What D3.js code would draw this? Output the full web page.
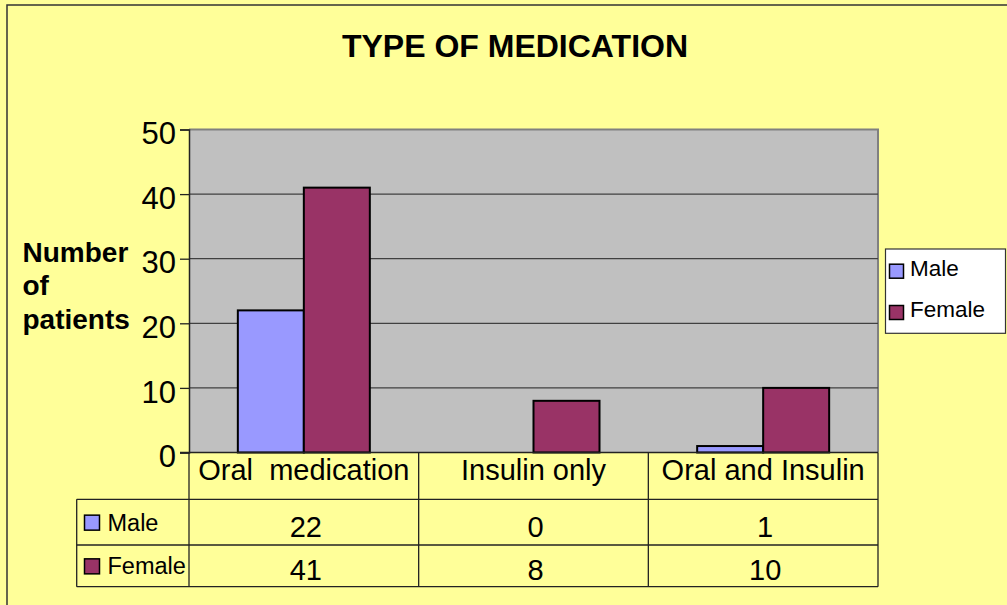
<!DOCTYPE html>
<html>
<head>
<meta charset="utf-8">
<script src="https://cdn.jsdelivr.net/npm/d3@7"></script>
<style>
  html, body { margin: 0; padding: 0; background: #FFFF99; }
  svg { display: block; }
  text { font-family: "Liberation Sans", Arial, sans-serif; }
</style>
</head>
<body>
<svg id="chart" width="1007" height="605"></svg>
<script>
const title = "TYPE OF MEDICATION";
const categories = ["Oral  medication", "Insulin only", "Oral and Insulin"];
const seriesNames = ["Male", "Female"];
const maleValues = [22, 0, 1];
const femaleValues = [41, 8, 10];
const yTicks = [0, 10, 20, 30, 40, 50];
const yTitleLines = ["Number", "of", "patients"];
const colors = { Male: "#9999FF", Female: "#993366" };

const seriesValues = { Male: maleValues, Female: femaleValues };

const svg = d3.select("#chart");
const W = 1007, H = 605;

svg.append("rect").attr("x", 0).attr("y", 0).attr("width", W).attr("height", H).attr("fill", "#FFFF99");
svg.append("rect").attr("x", 7).attr("y", 5).attr("width", W + 10).attr("height", H + 10)
  .attr("fill", "none").attr("stroke", "#333").attr("stroke-width", 1.5);

const plot = { left: 189, right: 878, top: 129.5, bottom: 452.5 };

const x = d3.scaleBand().domain(categories).range([plot.left, plot.right]).paddingInner(0).paddingOuter(0);
const xs = d3.scaleBand().domain(seriesNames).range([0, x.bandwidth()]).paddingInner(0).paddingOuter(0.74);
const y = d3.scaleLinear().domain([0, 50]).range([plot.bottom, plot.top]);

svg.append("rect").attr("x", plot.left).attr("y", plot.top)
  .attr("width", plot.right - plot.left).attr("height", plot.bottom - plot.top)
  .attr("fill", "#C0C0C0");
svg.append("path")
  .attr("d", `M${plot.left},${plot.top}H${plot.right}V${plot.bottom}`)
  .attr("fill", "none").attr("stroke", "#808080").attr("stroke-width", 2);

svg.append("g").selectAll("line").data(yTicks.filter(d => d > 0 && d < 50)).join("line")
  .attr("x1", plot.left).attr("x2", plot.right)
  .attr("y1", d => y(d)).attr("y2", d => y(d))
  .attr("stroke", "#404040").attr("stroke-width", 1.3);

const yAxis = d3.axisLeft(y).tickValues(yTicks).tickSize(9).tickPadding(6);
const gy = svg.append("g").attr("transform", `translate(${plot.left},0)`).call(yAxis);
gy.select(".domain").attr("stroke", "#222").attr("stroke-width", 1.5);
gy.selectAll(".tick line").attr("stroke", "#222").attr("stroke-width", 1.3);
gy.selectAll(".tick text").attr("font-size", 31).attr("fill", "#000").attr("dy", "0.46em").attr("x", -13);

const g = svg.append("g");
seriesNames.forEach(s => {
  g.selectAll(null).data(categories.map((c, i) => ({ c, v: seriesValues[s][i] })).filter(d => d.v > 0)).join("rect")
    .attr("x", d => x(d.c) + xs(s))
    .attr("y", d => y(d.v))
    .attr("width", xs.bandwidth())
    .attr("height", d => y(0) - y(d.v))
    .attr("fill", colors[s]).attr("stroke", "#000").attr("stroke-width", 2);
});

svg.append("line").attr("x1", plot.left - 9).attr("x2", plot.right)
  .attr("y1", y(0)).attr("y2", y(0)).attr("stroke", "#222").attr("stroke-width", 1.5);

const rowTops = [y(0), 499.3, 545, 586.7];
const tableLeft = 76.7;
const tg = svg.append("g").attr("stroke", "#222").attr("stroke-width", 1.3);
const colEdges = [plot.left, ...categories.map(c => x(c) + x.bandwidth())];
tg.selectAll(".vcol").data(colEdges).join("line")
  .attr("x1", d => d).attr("x2", d => d)
  .attr("y1", rowTops[0]).attr("y2", rowTops[3]);
tg.append("line").attr("x1", tableLeft).attr("x2", tableLeft).attr("y1", rowTops[1]).attr("y2", rowTops[3]);
tg.selectAll(".hrow").data([rowTops[1], rowTops[2], rowTops[3]]).join("line")
  .attr("x1", tableLeft).attr("x2", plot.right)
  .attr("y1", d => d).attr("y2", d => d);

svg.append("g").selectAll("text").data(categories).join("text")
  .attr("x", d => x(d) + x.bandwidth() / 2)
  .attr("y", 480)
  .attr("text-anchor", "middle")
  .attr("font-size", 29)
  .style("white-space", "pre")
  .attr("xml:space", "preserve")
  .text(d => d);

seriesNames.forEach((s, si) => {
  const base = si === 0 ? 536.5 : 580;
  svg.append("g").selectAll("text").data(categories.map((c, i) => ({ c, v: seriesValues[s][i] }))).join("text")
    .attr("x", d => x(d.c) + x.bandwidth() / 2 + 2)
    .attr("y", base)
    .attr("text-anchor", "middle")
    .attr("font-size", 29)
    .text(d => d.v);
  const rowMid = (rowTops[si + 1] + rowTops[si + 2]) / 2;
  svg.append("rect").attr("x", 84.5).attr("y", rowMid - 7)
    .attr("width", 15).attr("height", 15)
    .attr("fill", colors[s]).attr("stroke", "#000").attr("stroke-width", 1.5);
  svg.append("text").attr("x", 107.5).attr("y", rowMid + 8.5)
    .attr("font-size", 23.5).text(s);
});

svg.append("g").selectAll("text").data(yTitleLines).join("text")
  .attr("x", 22.5)
  .attr("y", (d, i) => 261.7 + i * 33.7)
  .attr("font-size", 28).attr("font-weight", "bold")
  .text(d => d);

svg.append("text").attr("x", 515).attr("y", 57.3)
  .attr("text-anchor", "middle").attr("font-size", 32).attr("font-weight", "bold")
  .text(title);

const lg = svg.append("g");
lg.append("rect").attr("x", 885.5).attr("y", 249).attr("width", 120).attr("height", 84.3)
  .attr("fill", "#fff").attr("stroke", "#333").attr("stroke-width", 1.2);
const legY = [275.7, 317];
seriesNames.forEach((s, i) => {
  lg.append("rect").attr("x", 889.5).attr("y", legY[i] - 11.5).attr("width", 14).attr("height", 14)
    .attr("fill", colors[s]).attr("stroke", "#000").attr("stroke-width", 1.5);
  lg.append("text").attr("x", 910).attr("y", legY[i]).attr("font-size", 22.5).text(s);
});
</script>
</body>
</html>
